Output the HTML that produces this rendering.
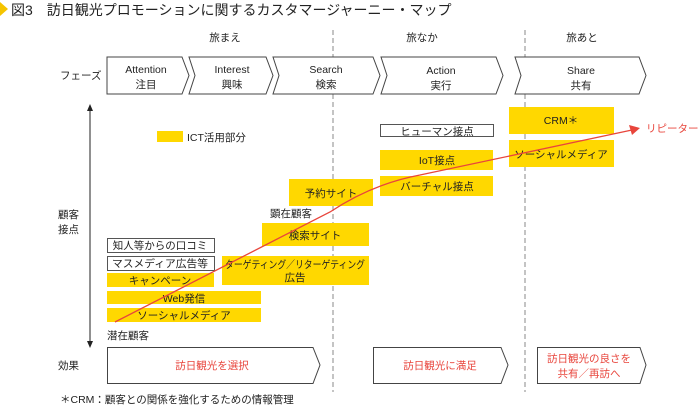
<!DOCTYPE html>
<html><head><meta charset="utf-8"><style>
body{margin:0;background:#fff;}
svg text{font-family:"Liberation Sans","Noto Sans CJK JP",sans-serif;font-size:10.5px;fill:#222;}
</style></head><body>
<svg width="700" height="407" viewBox="0 0 700 407" xmlns="http://www.w3.org/2000/svg">
<polygon points="0,2 8,9 0,16" fill="#f5c400"/>
<text x="11" y="15" style="font-size:14px">図3　訪日観光プロモーションに関するカスタマージャーニー・マップ</text>
<text x="225" y="41" text-anchor="middle">旅まえ</text>
<text x="422" y="41" text-anchor="middle">旅なか</text>
<text x="582" y="41" text-anchor="middle">旅あと</text>
<line x1="333" y1="30" x2="333" y2="392" stroke="#888" stroke-dasharray="5,3"/>
<line x1="525" y1="30" x2="525" y2="392" stroke="#888" stroke-dasharray="5,3"/>
<g fill="#fff" stroke="#444" stroke-width="1">
<polygon points="107,57 182,57 189,75.5 182,94 107,94"/>
<polygon points="189,57 266,57 273,75.5 266,94 189,94 195,75.5"/>
<polygon points="273,57 373,57 380,75.5 373,94 273,94 279,75.5"/>
<polygon points="381,57 496,57 503,75.5 496,94 381,94 387,75.5"/>
<polygon points="515,57 639,57 646,75.5 639,94 515,94 521,75.5"/>
</g>
<g text-anchor="middle">
<text x="146" y="73">Attention</text><text x="146" y="88">注目</text>
<text x="232" y="73">Interest</text><text x="232" y="88">興味</text>
<text x="326" y="73">Search</text><text x="326" y="88">検索</text>
<text x="441" y="74">Action</text><text x="441" y="89">実行</text>
<text x="581" y="74">Share</text><text x="581" y="89">共有</text>
</g>
<text x="60" y="79">フェーズ</text>
<line x1="90" y1="110" x2="90" y2="342" stroke="#222"/>
<polygon points="87,111 90,104 93,111" fill="#222"/>
<polygon points="87,341 90,348 93,341" fill="#222"/>
<text x="58" y="218">顧客</text><text x="58" y="233">接点</text>
<rect x="157" y="131" width="26" height="11" fill="#ffd800"/>
<text x="187" y="141">ICT活用部分</text>
<g fill="#ffd800">
<rect x="289" y="179" width="84" height="27"/>
<rect x="262" y="223" width="107" height="23"/>
<rect x="222" y="256" width="147" height="29"/>
<rect x="107" y="273" width="107" height="14"/>
<rect x="107" y="291" width="154" height="13"/>
<rect x="107" y="308" width="154" height="14"/>
<rect x="380" y="150" width="113" height="20"/>
<rect x="380" y="176" width="113" height="20"/>
<rect x="509" y="107" width="105" height="27"/>
<rect x="509" y="140" width="105" height="27"/>
</g>
<g fill="#fff" stroke="#555">
<rect x="107.5" y="238.5" width="107" height="14"/>
<rect x="107.5" y="256.5" width="107" height="14"/>
<rect x="380.5" y="124.5" width="113" height="12"/>
</g>
<g text-anchor="middle">
<text x="331" y="197">予約サイト</text>
<text x="315" y="239">検索サイト</text>
<text x="295" y="268" textLength="140" lengthAdjust="spacingAndGlyphs">ターゲティング／リターゲティング</text>
<text x="295" y="281">広告</text>
<text x="160" y="249">知人等からの口コミ</text>
<text x="160" y="267" textLength="96" lengthAdjust="spacingAndGlyphs">マスメディア広告等</text>
<text x="160" y="284">キャンペーン</text>
<text x="184" y="302">Web発信</text>
<text x="184" y="319">ソーシャルメディア</text>
<text x="437" y="135">ヒューマン接点</text>
<text x="437" y="164">IoT接点</text>
<text x="437" y="190">バーチャル接点</text>
<text x="561" y="124">CRM＊</text>
<text x="561" y="158">ソーシャルメディア</text>
</g>
<text x="270" y="217">顕在顧客</text>
<text x="107" y="339">潜在顧客</text>
<path d="M115,322 L330,212 Q372,184 420,175 L632,130" fill="none" stroke="#e8453c" stroke-width="1.3"/>
<polygon points="629,125 640,128 632,135" fill="#e8453c"/>
<text x="646" y="132" style="fill:#e8453c">リピーター</text>
<g fill="#fff" stroke="#444">
<polygon points="107.5,347.5 313,347.5 320,365 313,383.5 107.5,383.5"/>
<polygon points="373.5,347.5 501,347.5 508,365 501,383.5 373.5,383.5"/>
<polygon points="537.5,347.5 640,347.5 646,365 640,383.5 537.5,383.5"/>
</g>
<text x="58" y="369">効果</text>
<g text-anchor="middle">
<text x="212" y="369" style="fill:#e8453c">訪日観光を選択</text>
<text x="440" y="369" style="fill:#e8453c">訪日観光に満足</text>
<text x="589" y="362" style="fill:#e8453c">訪日観光の良さを</text>
<text x="589" y="377" style="fill:#e8453c">共有／再訪へ</text>
</g>
<text x="60" y="403">＊CRM：顧客との関係を強化するための情報管理</text>
</svg>
</body></html>
